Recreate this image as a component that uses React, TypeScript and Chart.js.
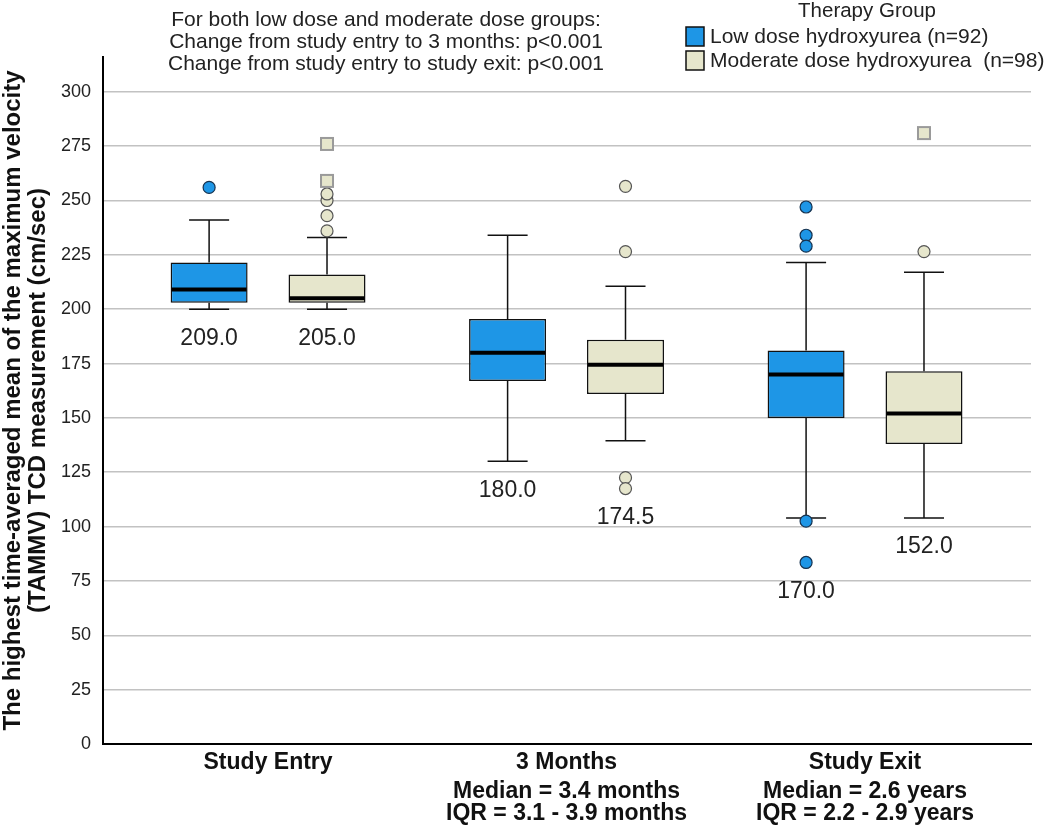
import { useEffect, useRef } from 'react';
import { Chart, registerables } from 'chart.js';

Chart.register(...registerables);

// ---------- data ----------
const categories = ['Study Entry', '3 Months', 'Study Exit'];
const categoryNotes: string[][] = [
  [],
  ['Median = 3.4 months', 'IQR = 3.1 - 3.9 months'],
  ['Median = 2.6 years', 'IQR = 2.2 - 2.9 years'],
];
const yTicks = [0, 25, 50, 75, 100, 125, 150, 175, 200, 225, 250, 275, 300];
const annotationLines = [
  'For both low dose and moderate dose groups:',
  'Change from study entry to 3 months: p<0.001',
  'Change from study entry to study exit: p<0.001',
];
const legendTitle = 'Therapy Group';
const seriesNames = ['Low dose hydroxyurea (n=92)', 'Moderate dose hydroxyurea  (n=98)'];
const yTitle = [
  'The highest time-averaged mean of the maximum velocity',
  '(TAMMV) TCD measurement (cm/sec)',
];

// Low dose group
const lowMin = [200, 130, 104];
const lowQ1 = [203, 167, 150];
const lowMedian = [209, 180, 170];
const lowQ3 = [221.5, 195.5, 181];
const lowMax = [241, 234, 221.5];
const lowOutliers: number[][] = [[256], [], [247, 234, 229, 102.5, 83.5]];
const lowExtremes: number[][] = [[], [], []];

// Moderate dose group
const modMin = [200, 139.5, 104];
const modQ1 = [203, 161, 138];
const modMedian = [205, 174.5, 152];
const modQ3 = [216, 186, 171.5];
const modMax = [233, 210.5, 217];
const modOutliers: number[][] = [[236, 243, 250, 253], [256.5, 226.5, 122.5, 117.5], [226.5]];
const modExtremes: number[][] = [[259, 276], [], [281]];

// ---------- styles ----------
const FONT = "'Liberation Sans', Arial, Helvetica, sans-serif";
const fillColors = ['#1E96E6', '#E6E6CC'];
const outlierStroke = ['#16324f', '#555555'];

const groups = [
  { min: lowMin, q1: lowQ1, med: lowMedian, q3: lowQ3, max: lowMax, out: lowOutliers, ext: lowExtremes },
  { min: modMin, q1: modQ1, med: modMedian, q3: modQ3, max: modMax, out: modOutliers, ext: modExtremes },
];

const boxPlugin = {
  id: 'boxDecor',
  beforeDatasetsDraw(chart: any) {
    const ctx = chart.ctx as CanvasRenderingContext2D;
    const ys = chart.scales.y;
    groups.forEach((g, di) => {
      const meta = chart.getDatasetMeta(di);
      meta.data.forEach((bar: any, i: number) => {
        const { x, width } = bar.getProps(['x', 'width'], true);
        const cap = width * 0.52;
        const yMin = ys.getPixelForValue(g.min[i]);
        const yMax = ys.getPixelForValue(g.max[i]);
        const yQ1 = ys.getPixelForValue(g.q1[i]);
        const yQ3 = ys.getPixelForValue(g.q3[i]);
        ctx.save();
        ctx.strokeStyle = '#111';
        ctx.lineWidth = 1.5;
        ctx.beginPath();
        ctx.moveTo(x, yQ3);
        ctx.lineTo(x, yMax);
        ctx.moveTo(x - cap / 2, yMax);
        ctx.lineTo(x + cap / 2, yMax);
        ctx.moveTo(x, yQ1);
        ctx.lineTo(x, yMin);
        ctx.moveTo(x - cap / 2, yMin);
        ctx.lineTo(x + cap / 2, yMin);
        ctx.stroke();
        ctx.restore();
      });
    });
  },
  afterDatasetsDraw(chart: any) {
    const ctx = chart.ctx as CanvasRenderingContext2D;
    const ys = chart.scales.y;
    groups.forEach((g, di) => {
      const meta = chart.getDatasetMeta(di);
      meta.data.forEach((bar: any, i: number) => {
        const { x, width } = bar.getProps(['x', 'width'], true);
        ctx.save();
        // median
        const yMed = ys.getPixelForValue(g.med[i]);
        ctx.strokeStyle = '#000';
        ctx.lineWidth = 4;
        ctx.beginPath();
        ctx.moveTo(x - width / 2 + 1, yMed);
        ctx.lineTo(x + width / 2 - 1, yMed);
        ctx.stroke();
        // outliers
        g.out[i].forEach((v) => {
          const py = ys.getPixelForValue(v);
          ctx.beginPath();
          ctx.arc(x, py, 6, 0, Math.PI * 2);
          ctx.fillStyle = fillColors[di];
          ctx.fill();
          ctx.lineWidth = 1.2;
          ctx.strokeStyle = outlierStroke[di];
          ctx.stroke();
        });
        g.ext[i].forEach((v) => {
          const py = ys.getPixelForValue(v);
          ctx.fillStyle = fillColors[di];
          ctx.fillRect(x - 6, py - 6, 12, 12);
          ctx.lineWidth = 2;
          ctx.strokeStyle = '#9a9a9a';
          ctx.strokeRect(x - 6, py - 6, 12, 12);
        });
        // median label under lowest point
        const lowest = Math.min(g.min[i], ...g.out[i], ...g.ext[i]);
        const ly = ys.getPixelForValue(lowest) + 29;
        ctx.fillStyle = '#222';
        ctx.font = `23px ${FONT}`;
        ctx.textAlign = 'center';
        ctx.textBaseline = 'middle';
        ctx.fillText(g.med[i].toFixed(1), x, ly);
        ctx.restore();
      });
    });
  },
  afterDraw(chart: any) {
    const ctx = chart.ctx as CanvasRenderingContext2D;
    const xs = chart.scales.x;
    const area = chart.chartArea;
    ctx.save();
    // category notes
    ctx.fillStyle = '#111';
    ctx.font = `bold 23px ${FONT}`;
    ctx.textAlign = 'center';
    ctx.textBaseline = 'middle';
    categoryNotes.forEach((lines, i) => {
      const px = xs.getPixelForValue(i);
      lines.forEach((t, k) => ctx.fillText(t, px, area.bottom + 48 + k * 22));
    });
    // annotation
    ctx.fillStyle = '#222';
    ctx.font = `21px ${FONT}`;
    annotationLines.forEach((t, k) => ctx.fillText(t, 386, 20 + k * 22));
    // legend
    ctx.font = `20.5px ${FONT}`;
    ctx.fillText(legendTitle, 867, 11);
    ctx.textAlign = 'left';
    ctx.font = `21px ${FONT}`;
    seriesNames.forEach((name, k) => {
      const top = 27 + k * 24;
      ctx.fillStyle = fillColors[k];
      ctx.fillRect(686, top, 18, 19);
      ctx.strokeStyle = '#111';
      ctx.lineWidth = 1.5;
      ctx.strokeRect(686, top, 18, 19);
      ctx.fillStyle = '#222';
      ctx.fillText(name, 710, top + 10);
    });
    ctx.restore();
  },
};

export default function App() {
  const ref = useRef<HTMLCanvasElement>(null);
  useEffect(() => {
    const makeDataset = (k: number, q1: number[], q3: number[]) => ({
      label: seriesNames[k],
      data: categories.map((_, i) => ({ x: i, y: [q1[i], q3[i]] })),
      backgroundColor: fillColors[k],
      borderColor: '#111',
      borderWidth: 1.5,
      borderSkipped: false,
      categoryPercentage: 0.79,
      barPercentage: 0.653,
    });
    const chart = new Chart(ref.current as HTMLCanvasElement, {
      type: 'bar',
      data: {
        datasets: [makeDataset(0, lowQ1, lowQ3), makeDataset(1, modQ1, modQ3)] as any,
      },
      options: {
        responsive: false,
        devicePixelRatio: 1,
        animation: false,
        layout: { padding: { top: 57, right: 19, left: 0, bottom: 0 } },
        plugins: { legend: { display: false }, tooltip: { enabled: false } },
        scales: {
          x: {
            type: 'linear',
            min: -0.553,
            max: 2.556,
            offset: false,
            afterBuildTicks: (s: any) => {
              s.ticks = categories.map((_, i) => ({ value: i }));
            },
            afterFit: (s: any) => {
              s.height = 86;
            },
            grid: { display: false, drawTicks: false },
            border: { display: true, color: '#000', width: 2 },
            ticks: {
              autoSkip: false,
              maxRotation: 0,
              padding: 5,
              color: '#111',
              font: { family: FONT, size: 23, weight: 'bold' },
              callback: (v: any) => categories[v as number] ?? '',
            },
          },
          y: {
            min: 0,
            max: 316,
            afterBuildTicks: (s: any) => {
              s.ticks = yTicks.map((v) => ({ value: v }));
            },
            afterFit: (s: any) => {
              s.width = 103;
            },
            grid: {
              drawTicks: false,
              lineWidth: 1.5,
              color: (c: any) => (c.tick && c.tick.value === 0 ? 'rgba(0,0,0,0)' : '#c2c2c2'),
            },
            border: { display: true, color: '#000', width: 2 },
            ticks: {
              padding: 12,
              color: '#222',
              font: { family: FONT, size: 18 },
            },
            title: {
              display: true,
              text: yTitle,
              color: '#111',
              padding: { top: 1, bottom: 0 },
              font: { family: FONT, size: 24, weight: 'bold', lineHeight: 1.04 },
            },
          },
        },
      } as any,
      plugins: [boxPlugin],
    });
    return () => chart.destroy();
  }, []);
  return (
    <div style={{ position: 'fixed', left: 0, top: 0, width: 1050, height: 830, background: '#fff' }}>
      <canvas ref={ref} width={1050} height={830} style={{ display: 'block' }} />
    </div>
  );
}
